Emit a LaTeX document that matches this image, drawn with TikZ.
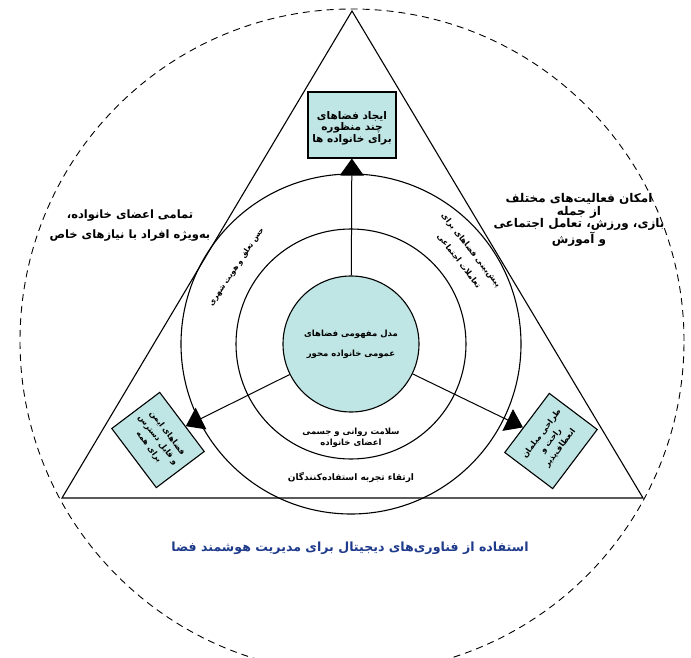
\documentclass[tikz,border=0pt]{standalone}
\usepackage{fontspec}
\newfontfamily\arabicfont[Script=Arabic]{DejaVu Sans}
\TeXXeTstate=1
\usetikzlibrary{arrows.meta,calc}
\definecolor{boxfill}{HTML}{BFE6E4}
\definecolor{titleblue}{HTML}{1E3A8A}
\newcommand\fa[1]{\beginR #1\endR}
\begin{document}
\begin{tikzpicture}[x=1pt,y=1pt,
  edge/.style={draw=black,line width=1.1pt},
  dashcirc/.style={draw=black,line width=0.9pt,dash pattern=on 7pt off 5pt},
  box/.style={draw=black,line width=1.1pt,fill=boxfill,align=center,inner sep=2pt,
    font=\arabicfont\bfseries\fontsize{10.5}{11.5}\selectfont},
  core/.style={circle,draw=black,line width=1.1pt,fill=boxfill,minimum size=136pt,align=center,
    font=\arabicfont\bfseries\fontsize{8.5}{20}\selectfont},
  arr/.style={draw=black,line width=1pt,-{Triangle[length=17pt,width=24pt]}},
  arclbl/.style={inner sep=0pt,align=center,font=\arabicfont\bfseries\fontsize{7.5}{10}\selectfont},
  corner/.style={align=center,font=\arabicfont\bfseries\fontsize{11.5}{20}\selectfont},
  ring/.style={align=center,font=\arabicfont\bfseries\fontsize{8.5}{11}\selectfont},
  foot/.style={text=titleblue,font=\arabicfont\bfseries\fontsize{12.6}{15}\selectfont}]
\useasboundingbox (0,0) rectangle (691,657);
\coordinate (c) at (351,313);
\coordinate (dc) at (352,316);
\draw[dashcirc] (dc) circle[radius=332];
\coordinate (A) at (352,646);
\coordinate (B) at (62,159);
\coordinate (C) at (643,159);
\draw[edge] (A) -- (B) -- (C) -- cycle;
\draw[edge] (c) circle[radius=170];
\draw[edge] (c) circle[radius=115];
\node[core] (core) at (c) {\fa{مدل مفهومی فضاهای}\\\fa{عمومی خانواده محور}};
% boxes
\node[box,minimum width=88pt,minimum height=66pt] (tbox) at (352,532) {};
\node[align=center,font=\arabicfont\bfseries\fontsize{10.5}{11.5}\selectfont] (ttext) at (352,529)
  {\fa{ایجاد فضاهای}\\\fa{چند منظوره}\\\fa{برای خانواده ها}};
\node[box,minimum width=74pt,minimum height=60pt,rotate=-53,
  font=\arabicfont\bfseries\fontsize{8}{11.5}\selectfont] (lbox) at (158,217)
  {\fa{فضاهای ایمن}\\\fa{و قابل دسترس}\\\fa{برای همه}};
\node[box,minimum width=74pt,minimum height=60pt,rotate=53,
  font=\arabicfont\bfseries\fontsize{8}{11.5}\selectfont] (rbox) at (551,216)
  {\fa{طراحی مبلمان}\\\fa{راحت و}\\\fa{انعطاف‌پذیر}};
% arrows
\draw[arr] (core) -- (tbox);
\draw[arr] (core) -- (lbox);
\draw[arr] (core) -- (rbox);
% ring labels
\node[arclbl,rotate=56] (belong) at ($(c)+(146:138)$) {\fa{حس تعلق و هویت شهری}};
\node[arclbl,rotate=-52,font=\arabicfont\bfseries\fontsize{8}{10}\selectfont] (foresee1) at ($(c)+(38:152)$) {\fa{پیش‌بینی فضاهای برای}};
\node[arclbl,rotate=-52.5,font=\arabicfont\bfseries\fontsize{8}{10}\selectfont] (foresee2) at ($(c)+(37.5:136)$) {\fa{تعاملات اجتماعی}};
\node[ring] (health) at (351,219) {\fa{سلامت روانی و جسمی}\\\fa{اعضای خانواده}};
\node[ring,font=\arabicfont\bfseries\fontsize{9}{11}\selectfont] (ux) at (351,179) {\fa{ارتقاء تجربه استفاده‌کنندگان}};
% corner texts
\node[corner] (lt) at (130,431) {\fa{تمامی اعضای خانواده،}\\\fa{به‌ویژه افراد با نیازهای خاص}};
\node[corner,font=\arabicfont\bfseries\fontsize{12}{12.5}\selectfont] (rt) at (579,437)
  {\fa{امکان فعالیت‌های مختلف}\\\fa{از جمله}\\\fa{بازی، ورزش، تعامل اجتماعی}\\\fa{و آموزش}};
\node[foot] (ft) at (350,109) {\fa{استفاده از فناوری‌های دیجیتال برای مدیریت هوشمند فضا}};
\end{tikzpicture}
\end{document}
